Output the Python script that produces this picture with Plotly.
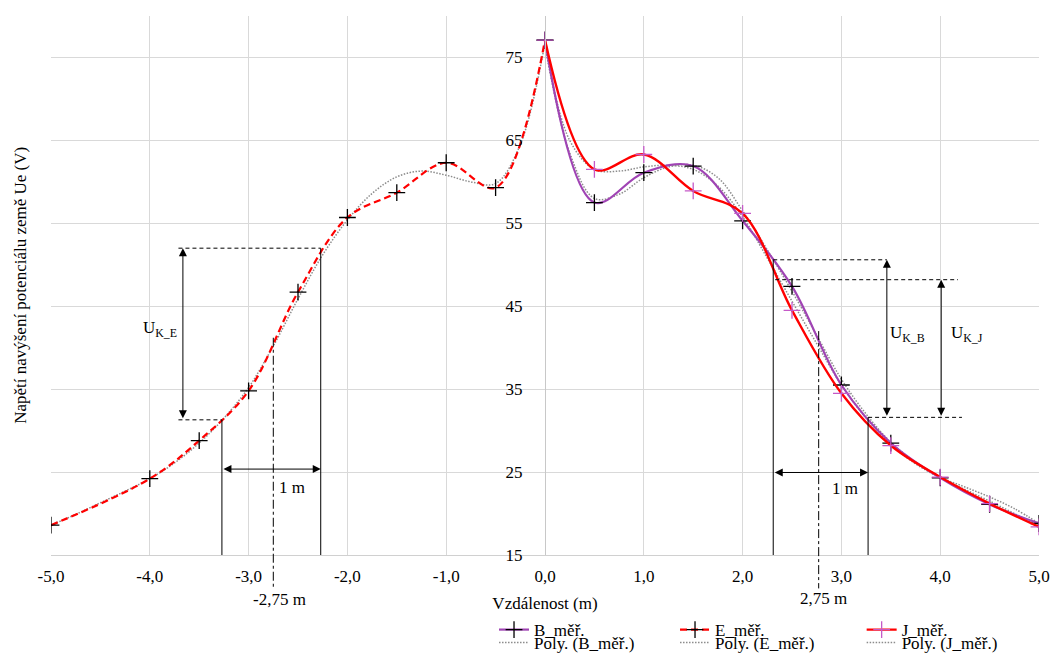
import plotly.graph_objects as go

# ---------------- data ----------------
X_E = [-5.0, -4.0, -3.5, -3.0, -2.5, -2.0, -1.5, -1.0, -0.5, 0.0]
E_VALS = [18.6, 24.2, 28.8, 34.8, 46.7, 55.7, 58.7, 62.3, 59.3, 77.1]

X_R = [0.0, 0.5, 1.0, 1.5, 2.0, 2.5, 3.0, 3.5, 4.0, 4.5, 5.0]
B_VALS = [77.1, 57.5, 61.1, 61.9, 55.3, 47.4, 35.5, 28.5, 24.3, 21.1, 18.8]
J_VALS = [77.1, 61.5, 63.3, 58.9, 56.2, 44.5, 34.5, 28.2, 24.4, 21.2, 18.4]

# trendline values
X_PE = [-5.0, -4.75, -4.5, -4.25, -4.0, -3.75, -3.5, -3.25, -3.0, -2.75, -2.5,
        -2.25, -2.0, -1.75, -1.5, -1.25, -1.0, -0.75, -0.5, -0.25, 0.0]
POLY_E = [18.6, 19.9, 21.3, 22.7, 24.2, 26.1, 28.5, 31.5, 35.2, 40.2, 45.9,
          51.2, 55.4, 58.6, 60.6, 61.3, 60.8, 60.0, 59.8, 64.5, 76.8]
X_PR = [0.0, 0.25, 0.5, 0.75, 1.0, 1.25, 1.5, 1.75, 2.0, 2.25, 2.5,
        2.75, 3.0, 3.25, 3.5, 3.75, 4.0, 4.25, 4.5, 4.75, 5.0]
POLY_B = [76.5, 63.5, 58.0, 58.5, 60.5, 61.8, 62.0, 60.5, 56.5, 51.8, 46.8,
          41.5, 36.2, 32.0, 28.6, 26.2, 24.4, 23.2, 22.0, 20.6, 18.8]
POLY_J = [76.5, 65.0, 61.5, 61.3, 61.8, 62.0, 61.5, 59.5, 55.8, 50.8, 45.6,
          40.5, 35.5, 31.5, 28.3, 26.0, 24.3, 22.9, 21.5, 20.0, 18.5]

X_TICKS = [-5, -4, -3, -2, -1, 0, 1, 2, 3, 4, 5]
X_TICK_LABELS = ["-5,0", "-4,0", "-3,0", "-2,0", "-1,0", "0,0", "1,0", "2,0", "3,0", "4,0", "5,0"]
Y_TICKS = [15, 25, 35, 45, 55, 65, 75]

# ---------------- style ----------------
FONT = "Liberation Serif, Times New Roman, Times, DejaVu Serif, serif"
FS = 17
PURPLE = "#A044B4"
RED = "#FF0000"
MAGENTA = "#C55AC8"
GRAY = "#8C8C8C"
Y0, Y1 = 15, 80

fig = go.Figure()

def marker(color):
    return dict(symbol="cross-thin", size=12, line=dict(color=color, width=1.3), color=color)

POLY_LINE = dict(color=GRAY, width=1.5, dash="1.5px,1.5px", shape="spline")
fig.add_trace(go.Scatter(x=X_PR, y=POLY_B, mode="lines", name="Poly. (B_měř.)",
                         line=POLY_LINE, legend="legend4"))
fig.add_trace(go.Scatter(x=X_PE, y=POLY_E, mode="lines", name="Poly. (E_měř.)",
                         line=POLY_LINE, legend="legend5"))
fig.add_trace(go.Scatter(x=X_PR, y=POLY_J, mode="lines", name="Poly. (J_měř.)",
                         line=POLY_LINE, legend="legend6"))
fig.add_trace(go.Scatter(x=X_R, y=B_VALS, mode="lines+markers", name="B_měř.",
                         line=dict(color=PURPLE, width=2.2, shape="spline"),
                         marker=marker("black"), legend="legend"))
fig.add_trace(go.Scatter(x=X_E, y=E_VALS, mode="lines+markers", name="E_měř.",
                         line=dict(color=RED, width=2.2, dash="7px,4px", shape="spline"),
                         marker=marker("black"), legend="legend2"))
fig.add_trace(go.Scatter(x=X_R, y=J_VALS, mode="lines+markers", name="J_měř.",
                         line=dict(color=RED, width=2.4, shape="spline"),
                         marker=marker(MAGENTA), legend="legend3"))

# ---------------- guide lines ----------------
def yp(v):
    return (v - Y0) / (Y1 - Y0)

shapes = []
def seg(x0, y0, x1, y1, dash="solid", yref="y"):
    shapes.append(dict(type="line", xref="x", yref=yref, x0=x0, y0=y0, x1=x1, y1=y1,
                       line=dict(color="black", width=1, dash=dash)))

DASH = "4px,3px"
# left
seg(-3.71, 52.0, -2.27, 52.0, DASH)
seg(-2.27, 15, -2.27, 52.0)
seg(-3.27, 15, -3.27, 31.3)
seg(-3.71, 31.3, -3.27, 31.3, DASH)
seg(-2.75, yp(41.2), -2.75, -0.062, "dashdot", "paper")
# right
seg(2.31, 15, 2.31, 50.6)
seg(2.31, 50.6, 3.46, 50.6, DASH)
seg(2.33, 48.2, 4.18, 48.2, DASH)
seg(3.27, 31.6, 4.22, 31.6, DASH)
seg(3.27, 15, 3.27, 31.6)
seg(2.77, yp(42.0), 2.77, -0.062, "dashdot", "paper")

annotations = []
def arrow(x0, y0, x1, y1):
    annotations.append(dict(x=x1, y=y1, ax=x0, ay=y0, xref="x", yref="y", axref="x", ayref="y",
                            text="", showarrow=True, arrowhead=2, startarrowhead=2,
                            arrowside="end+start", arrowsize=1.6, startarrowsize=1.6,
                            arrowwidth=1, arrowcolor="black"))

arrow(-3.665, 31.3, -3.665, 52.0)
arrow(-3.27, 25.36, -2.27, 25.36)
arrow(3.46, 31.6, 3.46, 50.6)
arrow(4.01, 31.6, 4.01, 48.2)
arrow(2.31, 24.95, 3.27, 24.95)

def label(x, y, text, yref="y"):
    annotations.append(dict(x=x, y=y, xref="x", yref=yref, text=text, showarrow=False,
                            font=dict(family=FONT, size=FS, color="black"),
                            xanchor="center", yanchor="middle"))

label(-3.897, 42.2, "U<sub>K_E</sub>")
label(3.674, 41.7, "U<sub>K_B</sub>")
label(4.27, 41.7, "U<sub>K_J</sub>")
label(-2.565, 23.2, "1 m")
label(3.036, 23.0, "1 m")
label(-2.69, -0.082, "-2,75 m", "paper")
label(2.817, -0.081, "2,75 m", "paper")

annotations.append(dict(x=-0.031, y=0.5, xref="paper", yref="paper", showarrow=False,
                        text="Napětí navýšení potenciálu země Ue (V)", textangle=-90,
                        font=dict(family=FONT, size=FS, color="black"),
                        xanchor="center", yanchor="middle"))

# ---------------- layout ----------------
def leg(x, y):
    return dict(x=x, y=y, xanchor="left", yanchor="middle", orientation="v",
                bgcolor="rgba(0,0,0,0)", borderwidth=0,
                font=dict(family=FONT, size=FS, color="black"), itemwidth=30)

R1, R2 = -0.1392, -0.1633
fig.update_layout(
    width=1057, height=658,
    margin=dict(l=51, r=18, t=16, b=103, autoexpand=False),
    paper_bgcolor="white", plot_bgcolor="white",
    font=dict(family=FONT, size=FS, color="black"),
    showlegend=True,
    legend=leg(0.4484, R1),
    legend2=leg(0.6316, R1),
    legend3=leg(0.8205, R1),
    legend4=leg(0.4484, R2),
    legend5=leg(0.6316, R2),
    legend6=leg(0.8205, R2),
    shapes=shapes,
    annotations=annotations,
    xaxis=dict(range=[-5, 5], tickvals=X_TICKS, ticktext=X_TICK_LABELS,
               showgrid=True, gridcolor="#D9D9D9", gridwidth=1, zeroline=False,
               showline=True, linecolor="#D0D0D0", linewidth=1,
               ticks="outside", ticklen=6, tickcolor="rgba(0,0,0,0)",
               tickfont=dict(family=FONT, size=FS, color="black"),
               title=dict(text="Vzdálenost (m)", standoff=11,
                          font=dict(family=FONT, size=FS, color="black"))),
    yaxis=dict(range=[Y0, Y1], tickvals=Y_TICKS, showgrid=True, gridcolor="#D9D9D9",
               gridwidth=1, zeroline=False, anchor="free", position=0.5,
               showline=True, linecolor="#C8C8C8", linewidth=1,
               ticks="outside", ticklen=19, tickcolor="rgba(0,0,0,0)",
               tickfont=dict(family=FONT, size=FS, color="black")),
)

fig.write_html("out.html", config={"displayModeBar": False},
               post_script="document.body.style.margin='0px';")
